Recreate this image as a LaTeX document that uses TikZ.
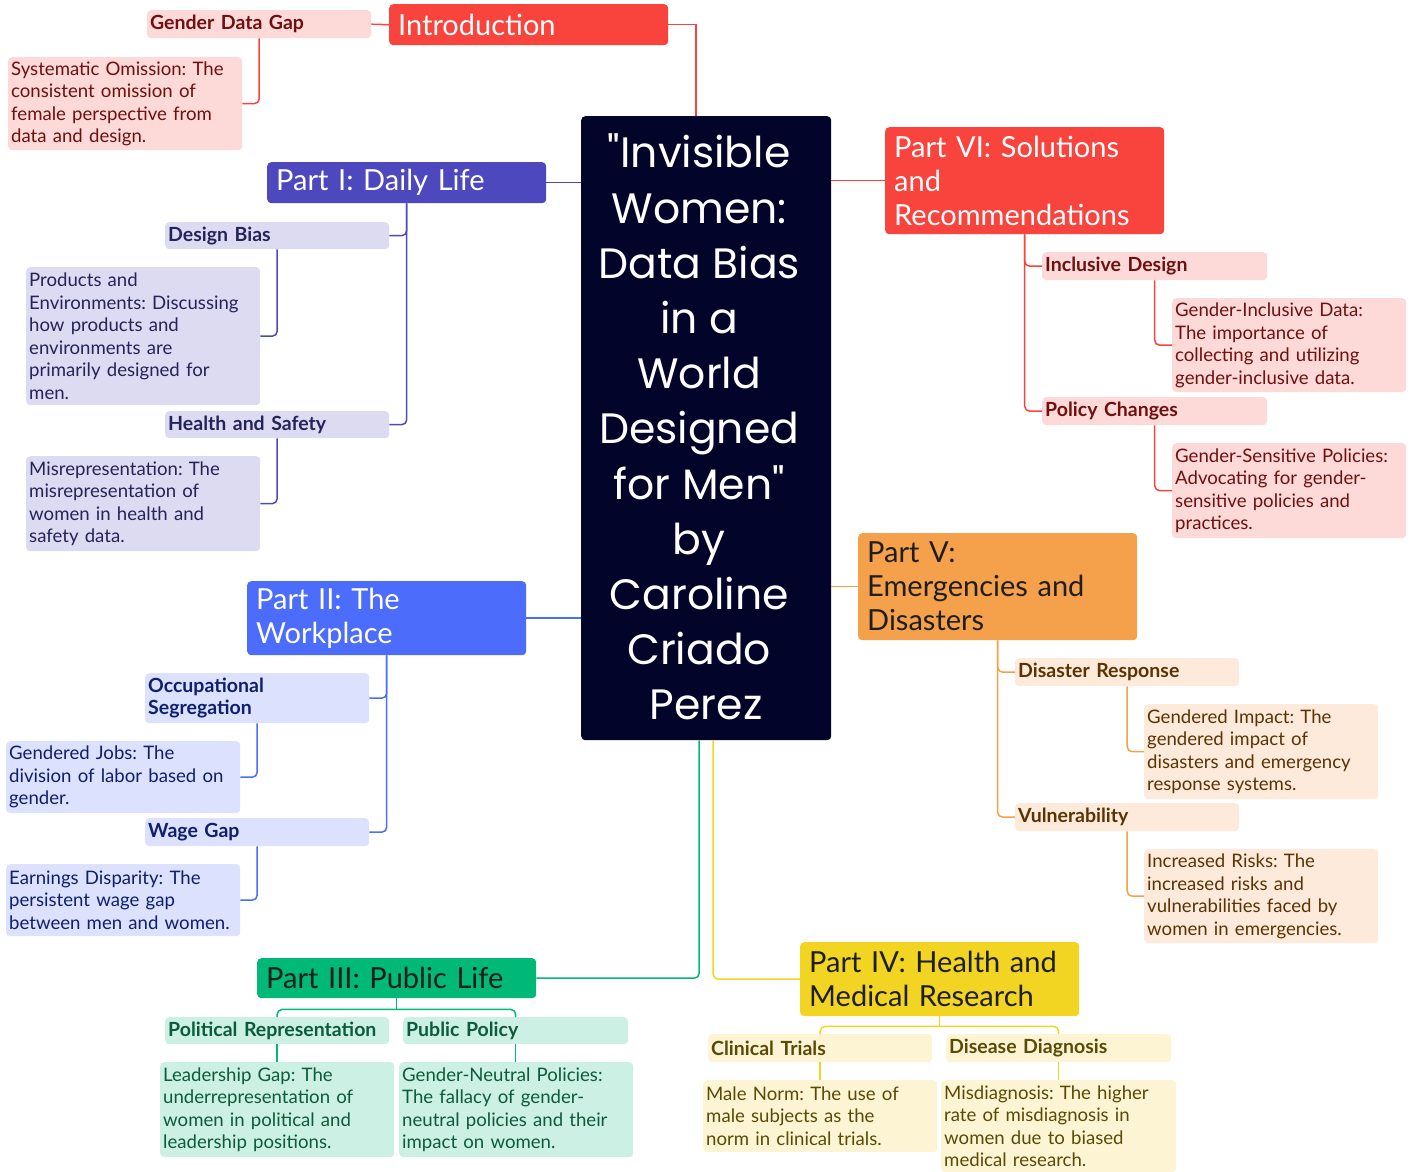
\documentclass[tikz,border=0pt]{standalone}
\usepackage{fontspec}
\setmainfont{Lato}
\newfontfamily\titlefont{Poppins}
\usetikzlibrary{calc}
\frenchspacing

\definecolor{rootbg}{HTML}{03042A}
\definecolor{redD}{HTML}{F9443E}
\definecolor{redL}{HTML}{FDD9D7}
\definecolor{redT}{HTML}{6E1010}
\definecolor{indD}{HTML}{4E48BE}
\definecolor{indL}{HTML}{DDDBF1}
\definecolor{indT}{HTML}{24235A}
\definecolor{bluD}{HTML}{4C6CFB}
\definecolor{bluL}{HTML}{DCE1FD}
\definecolor{bluT}{HTML}{0E1F6E}
\definecolor{grnD}{HTML}{00B877}
\definecolor{grnL}{HTML}{CCF0E3}
\definecolor{grnT}{HTML}{0B5C3C}
\definecolor{yelD}{HTML}{F2D422}
\definecolor{yelL}{HTML}{FCF4D2}
\definecolor{yelT}{HTML}{5A4A05}
\definecolor{orgD}{HTML}{F5A04A}
\definecolor{orgL}{HTML}{FDEADB}
\definecolor{orgT}{HTML}{5B3303}
\definecolor{darkT}{HTML}{1E1E1E}

\begin{document}
\begin{tikzpicture}[x=1pt,y=-1pt,
  every node/.style={anchor=north west,rounded corners=4pt,align=left,inner ysep=0pt},
  lvone/.style={inner xsep=9pt,text width=261pt,font=\fontsize{29}{34}\selectfont},
  lvtwo/.style={inner xsep=3pt,text width=218pt,minimum height=28pt,font=\bfseries\fontsize{19.5}{22}\selectfont},
  leaf/.style={inner xsep=3pt,text width=228pt,font=\fontsize{18.6}{22.5}\selectfont},
  wire/.style={line width=1.5pt,rounded corners=5pt},
  % one colour set per branch
  tR/.style={fill=redD,text=white}, sR/.style={fill=redL,text=redT}, wR/.style={wire,draw=redD},
  tI/.style={fill=indD,text=white}, sI/.style={fill=indL,text=indT}, wI/.style={wire,draw=indD},
  tB/.style={fill=bluD,text=white}, sB/.style={fill=bluL,text=bluT}, wB/.style={wire,draw=bluD},
  tG/.style={fill=grnD,text=darkT}, sG/.style={fill=grnL,text=grnT}, wG/.style={wire,draw=grnD},
  tY/.style={fill=yelD,text=darkT}, sY/.style={fill=yelL,text=yelT}, wY/.style={wire,draw=yelD},
  tO/.style={fill=orgD,text=darkT}, sO/.style={fill=orgL,text=orgT}, wO/.style={wire,draw=orgD}]

\useasboundingbox (0,0) rectangle (1413,1171);

% centre
\node[fill=rootbg,minimum width=250pt,minimum height=624pt] (root) at (581,116) {};
\node[anchor=center,text=white,align=center,font=\titlefont\fontsize{42.5}{55.2}\selectfont]
  (title) at ($(root.center)+(-7,-1)$)
  {"Invisible\\Women:\\Data Bias\\in a\\World\\Designed\\for Men"\\by\\Caroline\\Criado\\\hspace*{14pt}Perez};

% introduction
\node[lvone,tR,minimum height=41pt] (intro) at (389,4) {Introduction};
\node[lvtwo,sR] (gdg) at (147,10) {Gender Data Gap};
\node[leaf,sR,minimum height=93pt] (omis) at (8,57)
  {Systematic Omission: The\\consistent omission of\\female perspective from\\data and design.};

% part I
\node[lvone,tI,minimum height=41pt] (p1) at (267,162) {Part I: Daily Life};
\node[lvtwo,sI,minimum height=27pt] (dbias) at (165,222) {Design Bias};
\node[leaf,sI,minimum height=138pt] (prod) at (26,267)
  {Products and\\Environments: Discussing\\how products and\\environments are\\primarily designed for\\men.};
\node[lvtwo,sI,minimum height=27pt] (hsafe) at (165,411) {Health and Safety};
\node[leaf,sI,minimum height=95pt] (misrep) at (26,456)
  {Misrepresentation: The\\misrepresentation of\\women in health and\\safety data.};

% part II
\node[lvone,tB,minimum height=74pt] (p2) at (247,581) {Part II: The\\Workplace};
\node[lvtwo,sB,minimum height=50pt] (occ) at (145,673) {Occupational\\Segregation};
\node[leaf,sB,minimum height=72pt] (gjobs) at (6,741)
  {Gendered Jobs: The\\division of labor based on\\gender.};
\node[lvtwo,sB] (wgap) at (145,818) {Wage Gap};
\node[leaf,sB,minimum height=72pt] (earn) at (6,864)
  {Earnings Disparity: The\\persistent wage gap\\between men and women.};

% part III
\node[lvone,tG,minimum height=40pt] (p3) at (257,958) {Part III: Public Life};
\node[lvtwo,sG,minimum height=27pt] (polrep) at (165,1017) {Political Representation};
\node[lvtwo,sG,minimum height=27pt,text width=219pt] (pubpol) at (403,1017) {Public Policy};
\node[leaf,sG,minimum height=95pt] (lead) at (160,1062)
  {Leadership Gap: The\\underrepresentation of\\women in political and\\leadership positions.};
\node[leaf,sG,minimum height=95pt] (gneut) at (399,1062)
  {Gender-Neutral Policies:\\The fallacy of gender-\\neutral policies and their\\impact on women.};

% part IV
\node[lvone,tY,minimum height=74pt] (p4) at (800,942) {Part IV: Health and\\Medical Research};
\node[lvtwo,sY] (clin) at (708,1034) {Clinical Trials};
\node[lvtwo,sY,text width=219pt] (disdiag) at (946,1034) {Disease Diagnosis};
\node[leaf,sY,minimum height=72pt] (mnorm) at (703,1080)
  {Male Norm: The use of\\male subjects as the\\norm in clinical trials.};
\node[leaf,sY,minimum height=92pt,text width=229pt] (misdiag) at (941,1080)
  {Misdiagnosis: The higher\\rate of misdiagnosis in\\women due to biased\\medical research.};

% part V
\node[lvone,tO,minimum height=107pt] (p5) at (858,533) {Part V:\\Emergencies and\\Disasters};
\node[lvtwo,sO] (dresp) at (1015,658) {Disaster Response};
\node[leaf,sO,minimum height=95pt] (gimp) at (1144,704)
  {Gendered Impact: The\\gendered impact of\\disasters and emergency\\response systems.};
\node[lvtwo,sO] (vuln) at (1015,803) {Vulnerability};
\node[leaf,sO,minimum height=94pt] (irisk) at (1144,849)
  {Increased Risks: The\\increased risks and\\vulnerabilities faced by\\women in emergencies.};

% part VI
\node[lvone,tR,minimum height=107pt] (p6) at (885,127) {Part VI: Solutions\\and\\Recommendations};
\node[lvtwo,sR,text width=219pt] (incl) at (1042,252) {Inclusive Design};
\node[leaf,sR,minimum height=94pt] (gidata) at (1172,298)
  {Gender-Inclusive Data:\\The importance of\\collecting and utilizing\\gender-inclusive data.};
\node[lvtwo,sR,text width=219pt] (polch) at (1042,397) {Policy Changes};
\node[leaf,sR,minimum height=95pt] (gspol) at (1172,443)
  {Gender-Sensitive Policies:\\Advocating for gender-\\sensitive policies and\\practices.};

% connectors
\draw[wR,rounded corners=0pt] (intro.east) -| ($(root.north)+(-10,0)$);
\draw[wR] (intro.west) -- (gdg.east);
\draw[wR] (gdg.south) |- (omis.east);

\draw[wI] (p1.east -| root.west) -- (p1.east);
\draw[wI] (p1.south) |- (dbias.east);
\draw[wI] (p1.south) |- (hsafe.east);
\draw[wI] (dbias.south) |- (prod.east);
\draw[wI] (hsafe.south) |- (misrep.east);

\draw[wB] (p2.east -| root.west) -- (p2.east);
\draw[wB] (p2.south) |- (occ.east);
\draw[wB] (p2.south) |- (wgap.east);
\draw[wB] (occ.south) |- (gjobs.east);
\draw[wB] (wgap.south) |- (earn.east);

\coordinate (j3) at ($(p3.south)+(0,11)$);
\draw[wG] ($(root.south)+(-7,0)$) |- (p3.east);
\draw[wG] (p3.south) -- (j3);
\draw[wG] (polrep.north) |- (j3) -| (pubpol.north);
\draw[wG] (polrep.south) -- (lead.north -| polrep.south);
\draw[wG] (pubpol.south) -- (gneut.north -| pubpol.south);

\coordinate (j4) at ($(p4.south)+(0,10)$);
\draw[wY] ($(root.south)+(7,0)$) |- (p4.west);
\draw[wY] (p4.south) -- (j4);
\draw[wY] (clin.north) |- (j4) -| (disdiag.north);
\draw[wY] (clin.south) -- (mnorm.north -| clin.south);
\draw[wY] (disdiag.south) -- (misdiag.north -| disdiag.south);

\draw[wO] (p5.west -| root.east) -- (p5.west);
\draw[wO] (p5.south) |- (dresp.west);
\draw[wO] (p5.south) |- (vuln.west);
\draw[wO] (dresp.south) |- (gimp.west);
\draw[wO] (vuln.south) |- (irisk.west);

\draw[wR] (p6.west -| root.east) -- (p6.west);
\draw[wR] (p6.south) |- (incl.west);
\draw[wR] (p6.south) |- (polch.west);
\draw[wR] (incl.south) |- (gidata.west);
\draw[wR] (polch.south) |- (gspol.west);
\end{tikzpicture}
\end{document}
